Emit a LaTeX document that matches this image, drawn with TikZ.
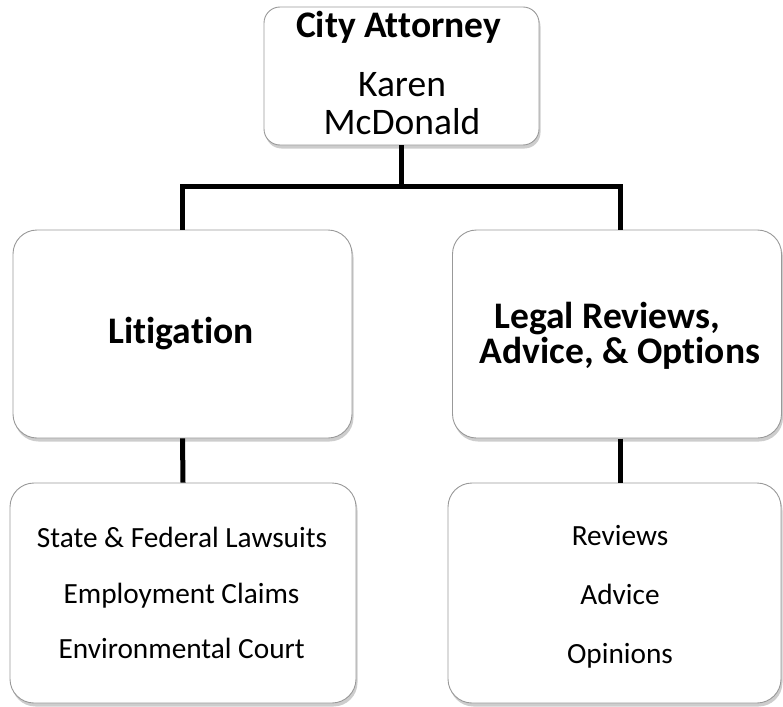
\documentclass[tikz,border=0pt]{standalone}
\usepackage{fontspec}
\setmainfont{Carlito}[Ligatures=NoCommon]
\usetikzlibrary{shadows}
\begin{document}
\begin{tikzpicture}[x=1pt,y=-1pt,
  orgbox/.style={draw=black!40, line width=0.9pt, fill=white, inner sep=0pt,
    rounded corners=#1,
    drop shadow={shadow xshift=1.5pt, shadow yshift=-3.5pt, opacity=0.28, fill=black!70}},
  orgbox/.default=24pt,
  conn/.style={line width=5pt, black, line join=miter},
  headtext/.style={anchor=base, inner sep=0pt, font=\fontsize{37.5}{44}\bfseries},
  persontext/.style={anchor=base, inner sep=0pt, font=\fontsize{37.5}{44}\selectfont},
  itemtext/.style={anchor=base, inner sep=0pt, font=\fontsize{29.3}{35}\selectfont}]
\useasboundingbox (0,0) rectangle (783,706);

% boxes
\node[orgbox=16pt, minimum width=275pt, minimum height=138pt] (ca) at (401.5,76) {};
\node[orgbox, minimum width=339pt, minimum height=208pt] (lit) at (182.5,334) {};
\node[orgbox, minimum width=329pt, minimum height=208pt] (leg) at (617,334) {};
\node[orgbox, minimum width=346pt, minimum height=220pt] (litw) at (183,593) {};
\node[orgbox, minimum width=333pt, minimum height=220pt] (legw) at (614.5,593) {};

% connectors
\coordinate (bus) at (0,186);
\coordinate (legtop) at (620,229.5);
\coordinate (legbot) at (620,438.5);
\coordinate (legwtop) at (620,482.5);
\draw[conn] (ca.south) -- (ca.south |- bus);
\draw[conn] (lit.north) -- (lit.north |- bus) -- (legtop |- bus) -- (legtop);
\draw[conn] (lit.south) -- (litw.north);
\draw[conn] (legbot) -- (legwtop);

% texts
\node[headtext] (ca-title) at (398.5,38) {City Attorney};
\node[persontext] (ca-name1) at (402,96) {Karen};
\node[persontext] (ca-name2) at (402,134) {McDonald};

\node[headtext] (lit-title) at (181,343) {Litigation};
\node[headtext] (leg-title1) at (607,328) {Legal Reviews,};
\node[headtext] (leg-title2) at (620,363) {Advice, \& Options};

\node[itemtext] (litw-1) at (182,547) {State \& Federal Lawsuits};
\node[itemtext] (litw-2) at (181.5,603) {Employment Claims};
\node[itemtext] (litw-3) at (181.7,658) {Environmental Court};

\node[itemtext] (legw-1) at (620,545) {Reviews};
\node[itemtext] (legw-2) at (620,604) {Advice};
\node[itemtext] (legw-3) at (620,663) {Opinions};
\end{tikzpicture}
\end{document}
